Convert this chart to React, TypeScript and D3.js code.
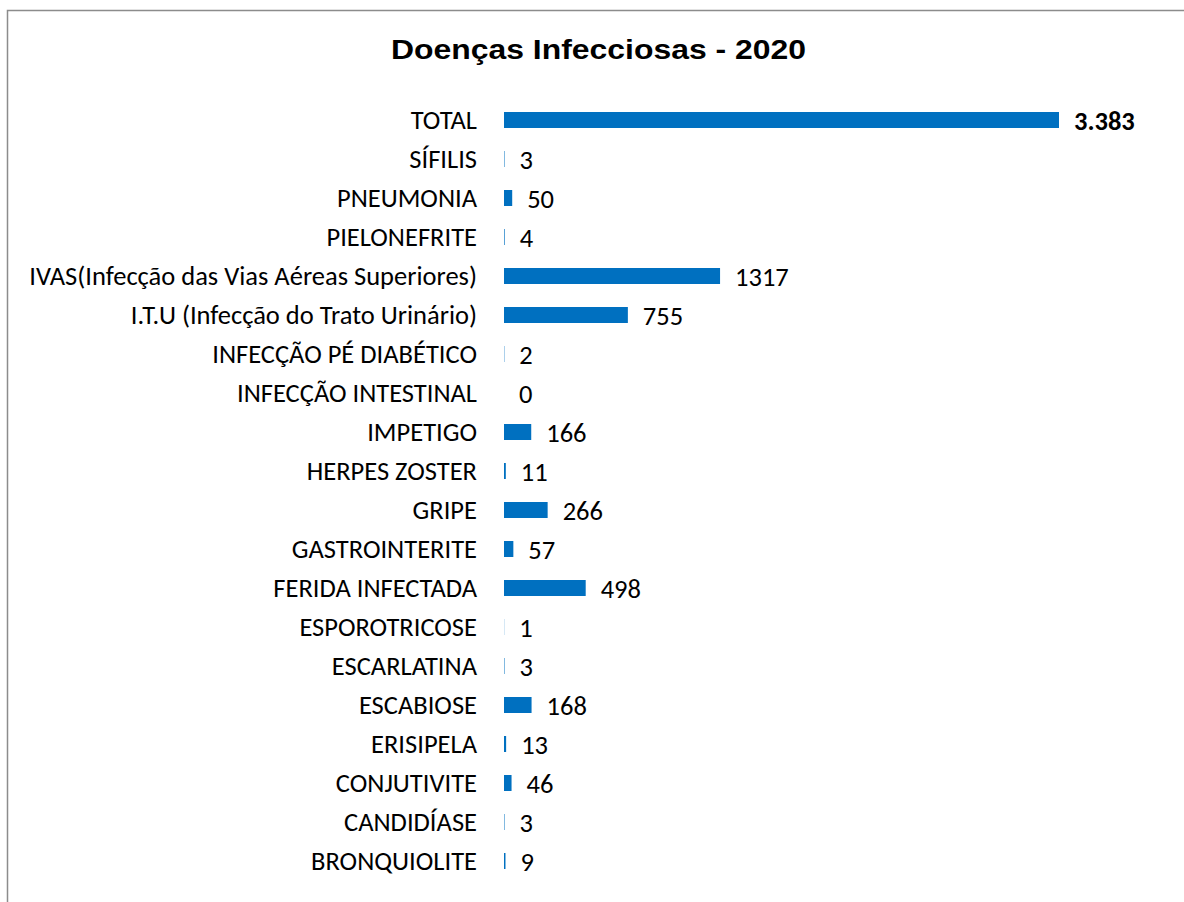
import React from 'react';
import * as d3 from 'd3';

const categories = [
  'TOTAL',
  'SÍFILIS',
  'PNEUMONIA',
  'PIELONEFRITE',
  'IVAS(Infecção das Vias Aéreas Superiores)',
  'I.T.U (Infecção do Trato Urinário)',
  'INFECÇÃO PÉ DIABÉTICO',
  'INFECÇÃO INTESTINAL',
  'IMPETIGO',
  'HERPES ZOSTER',
  'GRIPE',
  'GASTROINTERITE',
  'FERIDA INFECTADA',
  'ESPOROTRICOSE',
  'ESCARLATINA',
  'ESCABIOSE',
  'ERISIPELA',
  'CONJUTIVITE',
  'CANDIDÍASE',
  'BRONQUIOLITE',
];

const values = [3383, 3, 50, 4, 1317, 755, 2, 0, 166, 11, 266, 57, 498, 1, 3, 168, 13, 46, 3, 9];

const valueLabels = ['3.383', '3', '50', '4', '1317', '755', '2', '0', '166', '11', '266', '57', '498', '1', '3', '168', '13', '46', '3', '9'];

const title = 'Doenças Infecciosas - 2020';

const W = 1184;
const H = 902;
const font = "Calibri, Carlito, 'Open Sans', sans-serif";

export default function App() {
  const x = d3.scaleLinear().domain([0, 3383]).range([504, 1059]);
  const y = d3
    .scaleBand<string>()
    .domain(categories)
    .range([100.5, 880.5])
    .paddingInner(0.59)
    .paddingOuter(0.295);

  return (
    <svg
      width={W}
      height={H}
      style={{ position: 'absolute', left: 0, top: 0, background: '#fff' }}
    >
      <rect x={7.5} y={10.5} width={W + 10} height={H + 10} fill="#fff" stroke="#8c8c8c" strokeWidth={1.5} />
      <text
        x={391}
        y={59}
        textLength={415}
        lengthAdjust="spacingAndGlyphs"
        fontFamily="'Liberation Sans', Arial, sans-serif"
        fontWeight="bold"
        fontSize={27.5}
        fill="#000"
      >
        {title}
      </text>
      {categories.map((c, i) => {
        const yc = (y(c) as number) + y.bandwidth() / 2;
        const xEnd = x(values[i]);
        return (
          <g key={c}>
            <text
              x={477}
              y={yc + 8.5}
              textAnchor="end"
              fontFamily={font}
              fontSize={26.5}
              fill="#000"
            >
              {c}
            </text>
            {values[i] > 0 && (
              <rect x={x(0)} y={y(c)} width={xEnd - x(0)} height={y.bandwidth()} fill="#0070C0" />
            )}
            <text
              x={xEnd + 15}
              y={yc + 10}
              fontFamily={font}
              fontSize={26.5}
              fontWeight={i === 0 ? 'bold' : 'normal'}
              fill="#000"
            >
              {valueLabels[i]}
            </text>
          </g>
        );
      })}
    </svg>
  );
}
